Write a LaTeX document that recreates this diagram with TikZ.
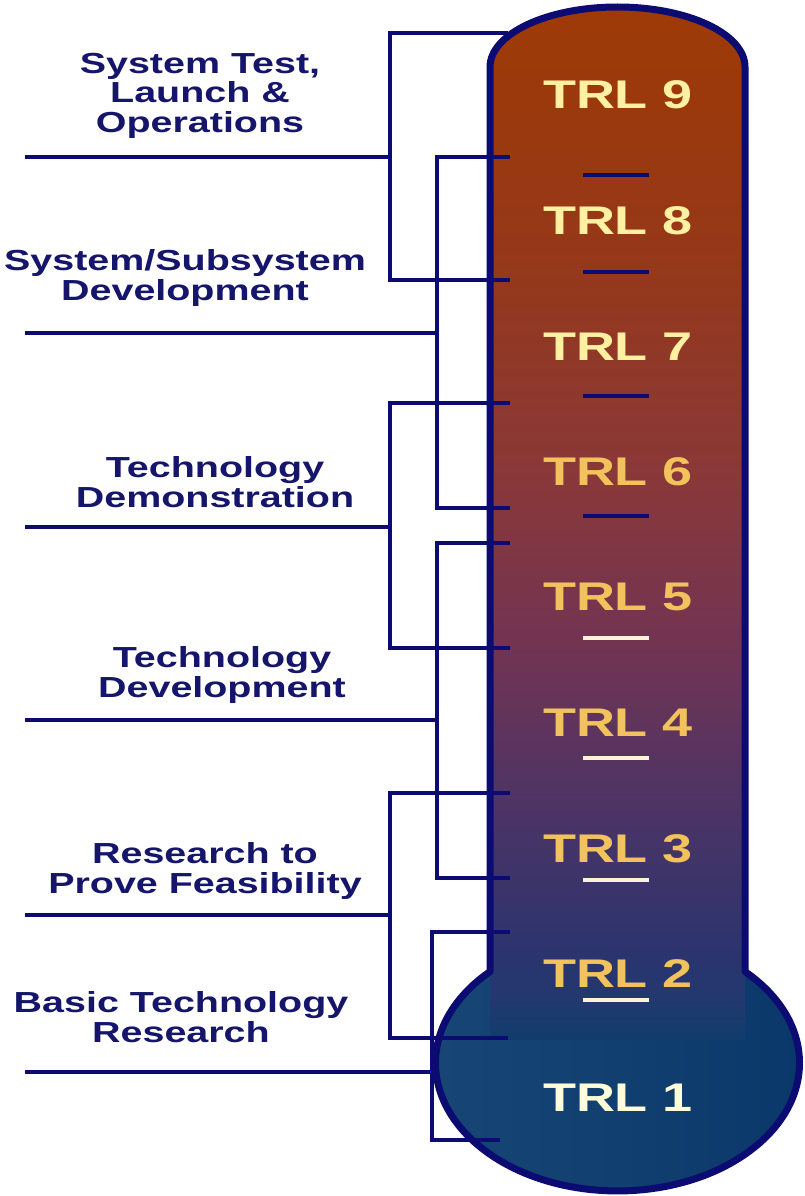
\documentclass[tikz,border=0pt]{standalone}
\usepackage{fontspec}
\setmainfont{Liberation Sans}
\usepackage{graphicx}
\definecolor{navy}{HTML}{0B0B72}
\definecolor{lbltxt}{HTML}{15156C}
\definecolor{trlA}{HTML}{FFF0A2}
\definecolor{trlB}{HTML}{F2C25C}
\definecolor{trlC}{HTML}{FFFCD8}
\definecolor{dashW}{HTML}{FFF2D8}
\definecolor{bulbL}{HTML}{174676}
\definecolor{bulbR}{HTML}{0B386A}
\definecolor{tb0}{HTML}{103D6C}
\definecolor{tb1}{HTML}{22386E}
\definecolor{tb2}{HTML}{2C346E}
\definecolor{tb3}{HTML}{4E3464}
\definecolor{tb4}{HTML}{733452}
\definecolor{tb5}{HTML}{8A3838}
\definecolor{tb6}{HTML}{963818}
\definecolor{tb7}{HTML}{9E3A06}
\pgfdeclareverticalshading{tubeshade}{100bp}{color(0bp)=(tb0); color(25bp)=(tb0); color(26.94bp)=(tb1); color(29.36bp)=(tb2); color(36.62bp)=(tb3); color(44.36bp)=(tb4); color(52.59bp)=(tb5); color(63.24bp)=(tb6); color(75bp)=(tb7); color(100bp)=(tb7)}
\newcommand{\stx}[1]{\scalebox{1.36}[1]{\begin{tabular}{@{}c@{}}#1\end{tabular}}}
\newcommand{\trx}[1]{\scalebox{1.35}[1]{#1}}
\begin{document}
\begin{tikzpicture}[x=1pt,y=-1pt,
  br/.style={draw=navy, line width=4pt},
  outline/.style={draw=navy, line width=7pt, line join=round},
  tick/.style={line width=4pt},
  lbl/.style={font=\fontsize{29}{29}\selectfont\bfseries, text=lbltxt, inner sep=0pt, anchor=center},
  trl/.style={font=\fontsize{40}{42}\selectfont\bfseries, inner sep=0pt, anchor=base}]
\useasboundingbox (0,0) rectangle (805,1196);
\fill[white] (0,0) rectangle (805,1196);
% bulb and tube fills
\shade[left color=bulbL, right color=bulbR] (617.5,1063) ellipse[x radius=182pt, y radius=128pt];
\shade[shading=tubeshade] (490,1040) -- (490,67) arc[start angle=180, end angle=0, x radius=127.5pt, y radius=60pt] -- (745,1040) -- cycle;
% coordinates
\coordinate (vA) at (390,0);
\coordinate (vB) at (437,0);
\coordinate (vC) at (432,0);
\coordinate (j1) at (508,33);   \coordinate (j2) at (510,280);
\coordinate (j3) at (510,157);  \coordinate (j4) at (510,508);
\coordinate (j5) at (510,403);  \coordinate (j6) at (510,648);
\coordinate (j7) at (510,543);  \coordinate (j8) at (510,878);
\coordinate (j9) at (510,793);  \coordinate (j10) at (508,1038);
\coordinate (j11) at (510,932); \coordinate (j12) at (500,1140);
\coordinate (k1) at (25,157);  \coordinate (k2) at (25,333);
\coordinate (k3) at (25,527);  \coordinate (k4) at (25,720);
\coordinate (k5) at (25,915);  \coordinate (k6) at (25,1072);
% brackets
\draw[br] (j1) -- (j1 -| vA) -- (j2 -| vA) -- (j2);
\draw[br] (k1) -- (k1 -| vA);
\draw[br] (j3) -- (j3 -| vB) -- (j4 -| vB) -- (j4);
\draw[br] (k2) -- (k2 -| vB);
\draw[br] (j5) -- (j5 -| vA) -- (j6 -| vA) -- (j6);
\draw[br] (k3) -- (k3 -| vA);
\draw[br] (j7) -- (j7 -| vB) -- (j8 -| vB) -- (j8);
\draw[br] (k4) -- (k4 -| vB);
\draw[br] (j9) -- (j9 -| vA) -- (j10 -| vA) -- (j10);
\draw[br] (k5) -- (k5 -| vA);
\draw[br] (j11) -- (j11 -| vC) -- (j12 -| vC) -- (j12);
\draw[br] (k6) -- (k6 -| vC);
% thermometer outline
\draw[outline] (490,971.6) -- (490,67) arc[start angle=180, end angle=0, x radius=127.5pt, y radius=60pt] -- (745,971.6) arc[start angle=45.53, end angle=-225.53, x radius=182pt, y radius=128pt] -- cycle;
% dashes
\foreach \yy in {175,272,396,516} \draw[tick, navy] (583,\yy) -- (649,\yy);
\foreach \yy in {638,758,880,1000} \draw[tick, dashW] (583,\yy) -- (649,\yy);
% TRL labels
\node[trl, text=trlA] (t9) at (618,109) {\trx{TRL 9}};
\node[trl, text=trlA] (t8) at (618,234) {\trx{TRL 8}};
\node[trl, text=trlA] (t7) at (618,360) {\trx{TRL 7}};
\node[trl, text=trlB] (t6) at (618,485) {\trx{TRL 6}};
\node[trl, text=trlB] (t5) at (618,610) {\trx{TRL 5}};
\node[trl, text=trlB] (t4) at (618,736) {\trx{TRL 4}};
\node[trl, text=trlB] (t3) at (618,862) {\trx{TRL 3}};
\node[trl, text=trlB] (t2) at (618,987) {\trx{TRL 2}};
\node[trl, text=trlC] (t1) at (618,1111) {\trx{TRL 1}};
% phase labels
\node[lbl] (l1) at (200,97) {\stx{System Test,\\Launch \&\\Operations}};
\node[lbl] (l2) at (185,279) {\stx{System/Subsystem\\Development}};
\node[lbl] (l3) at (215,486) {\stx{Technology\\Demonstration}};
\node[lbl] (l4) at (222,676) {\stx{Technology\\Development}};
\node[lbl] (l5) at (205,872) {\stx{Research to\\Prove Feasibility}};
\node[lbl] (l6) at (181,1021) {\stx{Basic Technology\\Research}};
\end{tikzpicture}
\end{document}
